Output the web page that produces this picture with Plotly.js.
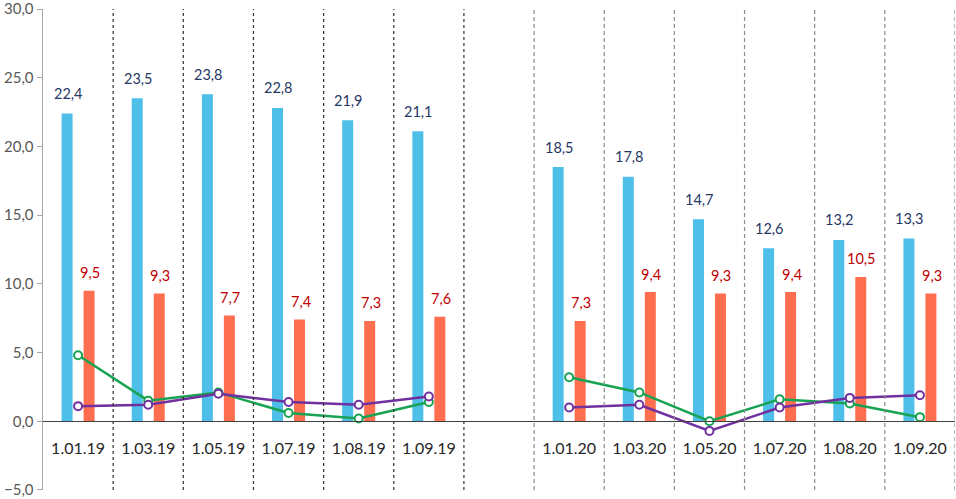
<!DOCTYPE html>
<html>
<head>
<meta charset="utf-8">
<script src="https://cdn.plot.ly/plotly-3.0.1.min.js"></script>
<style>html,body{margin:0;padding:0;background:#fff;}#chart{width:956px;height:499px;}</style>
</head>
<body>
<div id="chart"></div>
<script>
var categories = ['1.01.19','1.03.19','1.05.19','1.07.19','1.08.19','1.09.19',' ','1.01.20','1.03.20','1.05.20','1.07.20','1.08.20','1.09.20'];
var blueValues = [22.4, 23.5, 23.8, 22.8, 21.9, 21.1, null, 18.5, 17.8, 14.7, 12.6, 13.2, 13.3];
var redValues  = [9.5, 9.3, 7.7, 7.4, 7.3, 7.6, null, 7.3, 9.4, 9.3, 9.4, 10.5, 9.3];
var greenValues = [4.8, 1.5, 2.1, 0.6, 0.2, 1.4, null, 3.2, 2.1, 0.0, 1.6, 1.3, 0.3];
var purpleValues = [1.1, 1.2, 2.0, 1.4, 1.2, 1.8, null, 1.0, 1.2, -0.7, 1.0, 1.7, 1.9];
var yTicks = [-5, 0, 5, 10, 15, 20, 25, 30];

var FONT = 'Lato, "Open Sans", sans-serif';
var BLUE = '#4EBFE9', RED = '#FF6E4E', GREEN = '#17A352', PURPLE = '#7030A0';

function fmt(v){ return v.toFixed(1).replace('.', ','); }

var traces = [
  {type:'bar', x:categories, y:blueValues, marker:{color:BLUE}, hoverinfo:'skip'},
  {type:'bar', x:categories, y:redValues, marker:{color:RED}, hoverinfo:'skip'},
  {type:'scatter', mode:'lines+markers', x:categories, y:greenValues, connectgaps:false,
   line:{color:GREEN, width:2.5}, marker:{symbol:'circle', size:8, color:'#fff', line:{color:GREEN, width:2}}},
  {type:'scatter', mode:'lines+markers', x:categories, y:purpleValues, connectgaps:false,
   line:{color:PURPLE, width:2.5}, marker:{symbol:'circle', size:8, color:'#fff', line:{color:PURPLE, width:2}}}
];

var annotations = [];
categories.forEach(function(c, i){
  if (blueValues[i] !== null) {
    annotations.push({x:c, y:blueValues[i], xref:'x', yref:'y', text:fmt(blueValues[i]), showarrow:false,
      yanchor:'middle', yshift:20, xshift:-10, font:{family:FONT, size:14.5, color:'#1F3864'}});
  }
  if (redValues[i] !== null) {
    annotations.push({x:c, y:redValues[i], xref:'x', yref:'y', text:fmt(redValues[i]), showarrow:false,
      yanchor:'middle', yshift:18, xshift:12, font:{family:FONT, size:14.5, color:'#C00000'}});
  }
});

var shapes = [];
for (var k = 0; k < categories.length; k++) {
  var second = k >= 6;
  shapes.push({type:'line', xref:'x', yref:'paper', x0:k+0.5, x1:k+0.5, y0:0, y1:1,
    line:{color: second ? '#8C8C8C' : '#303030', width:1.2, dash: second ? '4px,3px' : '3px,3px'}});
}

var layout = {
  width:956, height:499,
  margin:{l:43, r:1, t:9, b:9},
  paper_bgcolor:'#fff', plot_bgcolor:'#fff',
  showlegend:false,
  separators:', ',
  barmode:'group', bargap:0.373, bargroupgap:0.5,
  font:{family:FONT, size:13, color:'#595959'},
  xaxis:{type:'category', anchor:'free', position:5/35, showline:true, linecolor:'#404040', linewidth:1,
    showgrid:false, zeroline:false, ticks:'outside', ticklen:13, tickcolor:'rgba(0,0,0,0)',
    tickfont:{family:FONT, size:16, color:'#262626'}, range:[-0.5, 12.5], fixedrange:true},
  yaxis:{range:[-5.001, 30.001], tickvals:yTicks, tickformat:'.1f', showgrid:false, zeroline:false,
    showline:true, linecolor:'#A6A6A6', linewidth:1.5, ticks:'outside', ticklen:5, tickcolor:'#A6A6A6',
    ticklabeloverflow:'allow',
    tickfont:{family:FONT, size:15, color:'#595959'}, fixedrange:true},
  shapes:shapes,
  annotations:annotations
};

Plotly.newPlot('chart', traces, layout, {staticPlot:true, displayModeBar:false});
</script>
</body>
</html>
